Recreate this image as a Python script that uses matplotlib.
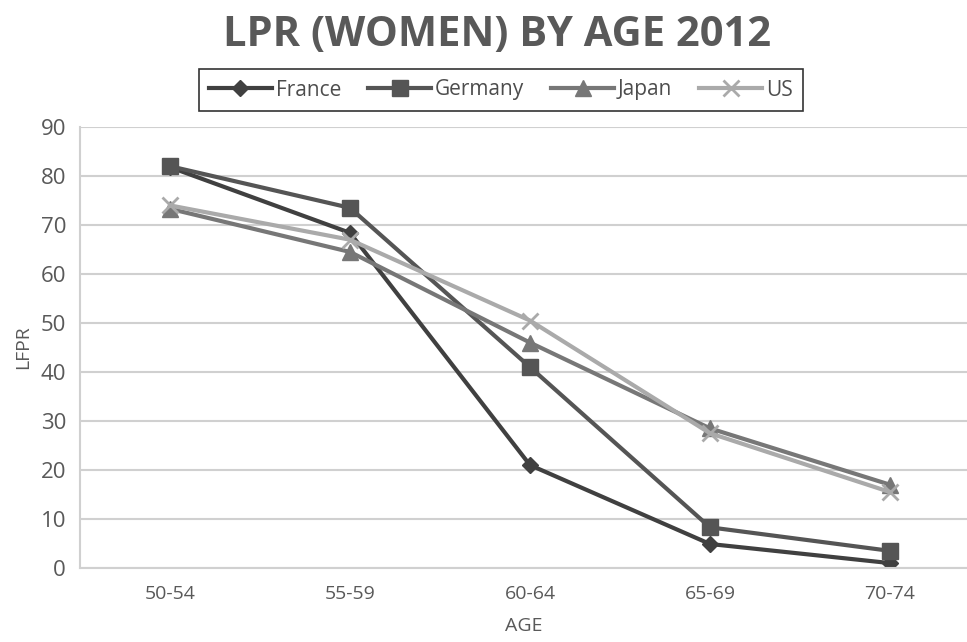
import matplotlib
matplotlib.use("Agg")
import matplotlib.pyplot as plt

ages = ["50-54", "55-59", "60-64", "65-69", "70-74"]
france = [81.8, 68.4, 21.0, 4.9, 1.0]
germany = [82.0, 73.5, 41.0, 8.3, 3.5]
japan = [73.3, 64.5, 46.0, 28.5, 17.0]
us = [74.0, 67.0, 50.5, 27.5, 15.5]

plt.rcParams['font.family'] = ['Open Sans', 'DejaVu Sans']
text_col = "#595959"

fig = plt.figure(figsize=(9.67, 6.42), dpi=100)
ax = fig.add_axes([80 / 967, 74 / 642, 887 / 967, 441 / 642])

x = range(len(ages))
ax.plot(x, france, color="#404040", lw=3, marker="D", ms=8, label="France")
ax.plot(x, germany, color="#555555", lw=3, marker="s", ms=11, label="Germany")
ax.plot(x, japan, color="#777777", lw=3, marker="^", ms=11, label="Japan")
ax.plot(x, us, color="#aaaaaa", lw=3, marker="x", ms=11, mew=2, label="US")

ax.set_xlim(-0.5, -0.5 + 887 / 180)
ax.set_ylim(0, 90)
ax.set_yticks(range(0, 91, 10))
ax.set_xticks(list(x))
ax.set_xticklabels(ages)
ax.yaxis.grid(True, color="#d0d0d0", lw=1.5)
ax.set_axisbelow(True)
for s in ["top", "right"]:
    ax.spines[s].set_visible(False)
ax.spines["left"].set_color("#d0d0d0")
ax.spines["bottom"].set_color("#d0d0d0")
ax.spines["left"].set_linewidth(1.5)
ax.spines["bottom"].set_linewidth(1.5)
ax.tick_params(length=0, colors=text_col, labelsize=14, pad=12)
ax.tick_params(axis="y", labelsize=16, pad=10)

ax.set_xlabel("AGE", color=text_col, fontsize=14, labelpad=10)
ax.set_ylabel("LFPR", color=text_col, fontsize=14, labelpad=6)

fig.text(0.514, 0.945, "LPR (WOMEN) BY AGE 2012", ha="center", va="center",
         fontsize=30, fontweight="bold", color=text_col)

leg = fig.legend(loc="center", bbox_to_anchor=(501 / 967, 1 - 90 / 642), ncol=4,
                 frameon=True, fancybox=False, edgecolor="black", fontsize=15,
                 handlelength=3.0, handletextpad=0.2, columnspacing=1.3,
                 borderpad=0.5, labelcolor="#4d4d4d")
leg.get_frame().set_linewidth(1.2)

fig.savefig("out.png", dpi=100)
